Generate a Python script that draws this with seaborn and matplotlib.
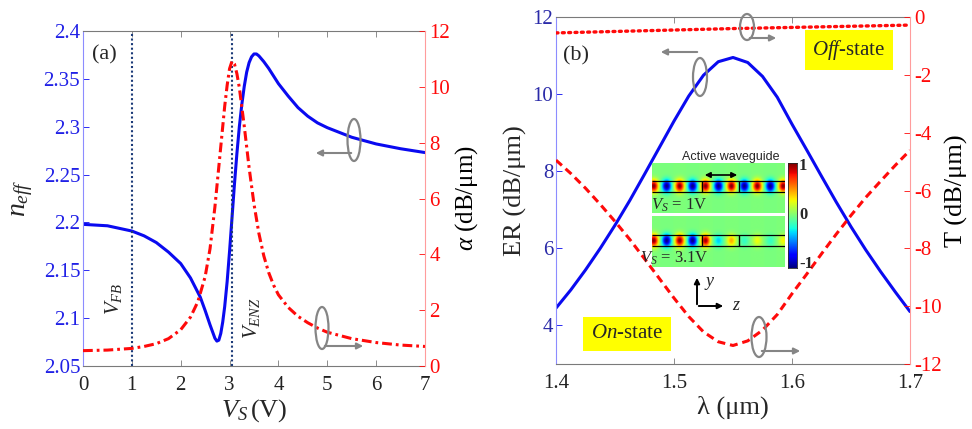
import numpy as np
import matplotlib
matplotlib.use("Agg")
import matplotlib.pyplot as plt
from matplotlib.patches import Ellipse, FancyArrowPatch
import seaborn as sns

# ---- panel (a): effective index and loss versus bias voltage ----
v_s = [0.0, 0.5, 1.0, 1.25, 1.5, 1.75, 2.0, 2.2, 2.4, 2.5, 2.6, 2.65, 2.7,
       2.74, 2.78, 2.82, 2.86, 2.9, 2.95, 3.0, 3.05, 3.1, 3.15, 3.2, 3.25, 3.3,
       3.35, 3.4, 3.45, 3.5, 3.55, 3.6, 3.7, 3.8, 3.9, 4.0, 4.2, 4.4, 4.6, 4.8,
       5.0, 5.5, 6.0, 6.5, 7.0]
n_eff = [2.198, 2.1965, 2.191, 2.186, 2.179, 2.169, 2.157, 2.142, 2.122, 2.108,
         2.093, 2.086, 2.079, 2.076, 2.077, 2.084, 2.096, 2.112, 2.138, 2.170,
         2.205, 2.240, 2.272, 2.300, 2.323, 2.342, 2.357, 2.367, 2.373, 2.376,
         2.376, 2.374, 2.368, 2.361, 2.353, 2.345, 2.332, 2.320, 2.311, 2.304,
         2.299, 2.289, 2.282, 2.277, 2.273]
v_s_loss = [0.0, 0.5, 1.0, 1.25, 1.5, 1.75, 2.0, 2.2, 2.35, 2.5, 2.6, 2.7, 2.8,
            2.9, 2.95, 3.0, 3.05, 3.1, 3.15, 3.2, 3.3, 3.4, 3.5, 3.6, 3.7, 3.8,
            3.9, 4.0, 4.2, 4.4, 4.6, 4.8, 5.0, 5.5, 6.0, 6.5, 7.0]
alpha_loss = [0.55, 0.57, 0.63, 0.70, 0.80, 0.98, 1.30, 1.75, 2.30, 3.20, 4.20,
              5.70, 7.50, 9.30, 10.05, 10.65, 10.92, 10.82, 10.47, 9.97, 8.60,
              7.10, 5.80, 4.75, 3.95, 3.35, 2.90, 2.55, 2.10, 1.78, 1.55, 1.36,
              1.21, 0.98, 0.84, 0.75, 0.70]
v_fb = 1.0
v_enz = 3.05

# ---- panel (b): extinction ratio and transmission versus wavelength ----
wavelength = [1.4, 1.4125, 1.425, 1.4375, 1.45, 1.4625, 1.475, 1.4875, 1.5,
              1.5125, 1.525, 1.5375, 1.55, 1.5625, 1.575, 1.5875, 1.6, 1.6125,
              1.625, 1.6375, 1.65, 1.6625, 1.675, 1.6875, 1.7]
extinction_ratio = [4.45, 4.92, 5.44, 6.00, 6.60, 7.24, 7.92, 8.61, 9.30, 9.95,
                    10.49, 10.84, 10.95, 10.82, 10.46, 9.92, 9.22, 8.55, 7.87,
                    7.20, 6.56, 5.96, 5.40, 4.87, 4.36]
t_on = [-4.95, -5.41, -5.92, -6.48, -7.07, -7.69, -8.36, -9.04, -9.72, -10.36,
        -10.89, -11.23, -11.36, -11.20, -10.83, -10.29, -9.57, -8.89, -8.19,
        -7.51, -6.86, -6.24, -5.68, -5.13, -4.61]
wavelength_off = [1.40, 1.45, 1.50, 1.55, 1.60, 1.65, 1.70]
t_off = [-0.55, -0.50, -0.45, -0.40, -0.36, -0.32, -0.28]

# normalised field amplitude of each lobe along the waveguide
field_1v = [1, -1, 1, -1, 1, -1, 1, -1, 1, -1, 1]
field_3v1 = [1, -1, 1, -1, 0.95, -0.35, 0.45, -0.18, 0.28, -0.18, 0.30]

a_xticks = [0, 1, 2, 3, 4, 5, 6, 7]
a_yticks_left = [2.05, 2.1, 2.15, 2.2, 2.25, 2.3, 2.35, 2.4]
a_yticks_right = [0, 2, 4, 6, 8, 10, 12]
b_xticks = [1.4, 1.5, 1.6, 1.7]
b_yticks_left = [4, 6, 8, 10, 12]
b_yticks_right = [-12, -10, -8, -6, -4, -2, 0]

BLUE = "#0a0af0"
RED = "#ff0a0a"
GREY = "#858585"
SERIF = ["Liberation Serif", "DejaVu Serif"]

sns.set_style("ticks")
plt.rcParams["font.family"] = SERIF
plt.rcParams["mathtext.fontset"] = "custom"
plt.rcParams["mathtext.rm"] = "Liberation Serif"
plt.rcParams["mathtext.it"] = "Liberation Serif:italic"
plt.rcParams["mathtext.bf"] = "Liberation Serif:bold"
plt.rcParams["axes.unicode_minus"] = False

W, H = 972, 429
fig = plt.figure(figsize=(W / 100, H / 100), dpi=100)


def frac(x, y):
    return (x / W, 1 - y / H)


def box(l, t, r, b):
    return [l / W, 1 - b / H, (r - l) / W, (b - t) / H]


def style_twin(ax, ax2, left_col, right_col, tick_left, tick_right):
    for s in ("top", "bottom"):
        ax.spines[s].set_color("#7a7a7a")
        ax.spines[s].set_linewidth(0.8)
    ax.spines["left"].set_color("#8c8cff")
    ax.spines["left"].set_linewidth(0.8)
    ax.spines["right"].set_visible(False)
    for s in ("top", "bottom", "left"):
        ax2.spines[s].set_visible(False)
    ax2.spines["right"].set_color("#ff9c9c")
    ax2.spines["right"].set_linewidth(0.8)
    ax.tick_params(axis="x", direction="in", top=True, length=4, width=0.6,
                   color="#7a7a7a", labelsize=15, pad=7, labelcolor="#222222")
    ax.tick_params(axis="y", direction="in", left=True, right=False, length=4,
                   width=0.6, color=left_col, labelcolor=tick_left,
                   labelsize=15, pad=2)
    ax2.tick_params(axis="y", direction="in", right=True, length=4, width=0.6,
                    color=right_col, labelcolor=tick_right, labelsize=15, pad=3)


def rotation_mark(cx, cy, w, h, ay, x_tip):
    fig.add_artist(Ellipse(frac(cx, cy), w / W, h / H, transform=fig.transFigure,
                           fill=False, ec=GREY, lw=1.6))
    fig.add_artist(FancyArrowPatch(frac(cx, ay), frac(x_tip, ay),
                                   transform=fig.transFigure, arrowstyle="-|>",
                                   mutation_scale=9, color=GREY, lw=1.5))


# ================= panel (a) =================
axa = fig.add_axes(box(83, 31, 425, 366))
axa2 = axa.twinx()
sns.lineplot(x=v_s, y=n_eff, ax=axa, color=BLUE, lw=2.2, sort=False)
loss_line = sns.lineplot(x=v_s_loss, y=alpha_loss, ax=axa2, color=RED, lw=2.2,
                         sort=False).lines[-1]
loss_line.set_dashes([3.2, 1.3, 0.9, 1.3])
for v in (v_fb, v_enz):
    axa.axvline(v, color="#1b3a78", ls=(0, (1, 1.2)), lw=1.5)

axa.set_xlim(0, 7)
axa.set_ylim(2.05, 2.4)
axa2.set_ylim(0, 12)
axa.set_xticks(a_xticks)
axa.set_yticks(a_yticks_left)
axa.set_yticklabels([f"{t:g}" for t in a_yticks_left])
axa2.set_yticks(a_yticks_right)
style_twin(axa, axa2, BLUE, RED, "#2020e6", RED)
axa.set_xlabel(r"$V_S\,$(V)", fontsize=19, labelpad=2)
axa.set_ylabel(r"$n_{eff}$", fontsize=20, labelpad=6)
axa2.set_ylabel(r"$\alpha$ (dB/μm)", fontsize=18, labelpad=2, color="black")
axa.text(0.026, 0.928, "(a)", transform=axa.transAxes, fontsize=16,
         ha="left", va="center")
axa.text(0.62, 2.12, r"$V_{FB}$", rotation=90, fontsize=15, ha="center",
         va="center")
axa.text(3.45, 2.10, r"$V_{ENZ}$", rotation=90, fontsize=15, ha="center",
         va="center")

# ================= panel (b) =================
axb = fig.add_axes(box(556, 17, 910, 364))
axb2 = axb.twinx()
sns.lineplot(x=wavelength, y=extinction_ratio, ax=axb, color=BLUE, lw=2.2,
             sort=False)
on_line = sns.lineplot(x=wavelength, y=t_on, ax=axb2, color=RED, lw=2.2,
                       sort=False).lines[-1]
on_line.set_dashes([2.6, 1.6])
off_line = sns.lineplot(x=wavelength_off, y=t_off, ax=axb2, color=RED, lw=2.4,
                        sort=False).lines[-1]
off_line.set_dashes([0.6, 1.3])
off_line.set_dash_capstyle("round")

axb.set_xlim(1.4, 1.7)
axb.set_ylim(3, 12)
axb2.set_ylim(-12, 0)
axb.set_xticks(b_xticks)
axb.set_xticklabels([f"{t:g}" for t in b_xticks])
axb.set_yticks(b_yticks_left)
axb2.set_yticks(b_yticks_right)
style_twin(axb, axb2, BLUE, RED, "#2a2aa8", RED)
axb.set_xlabel("λ (μm)", fontsize=19, labelpad=2)
axb.set_ylabel("ER (dB/μm)", fontsize=19, labelpad=4)
axb2.set_ylabel("T (dB/μm)", fontsize=19, labelpad=2, color="black")
axb.text(0.02, 0.888, "(b)", transform=axb.transAxes, fontsize=16,
         ha="left", va="center")

ybox = dict(facecolor="#ffff00", edgecolor="none", pad=5.5)
fig.text(*frac(849, 50), r"$Off$-state", fontsize=15, ha="center",
         va="center", bbox=ybox)
fig.text(*frac(627, 334), r"$On$-state", fontsize=15, ha="center",
         va="center", bbox=ybox)

# rotation markers pointing each curve to its axis
rotation_mark(354, 140, 13, 42, 153, 313)
rotation_mark(322, 328, 13, 42, 346, 366)
rotation_mark(747, 27, 14, 26, 38, 779)
rotation_mark(700, 77, 14, 38, 52, 658)
rotation_mark(759, 337, 15, 40, 351, 803)

# ---- inset: field maps along the waveguide ----
X0, X1 = -0.12, 10.12
xs = np.linspace(X0, X1, 330)
ys = np.linspace(0, 1, 130)
gx, gy = np.meshgrid(xs, ys)
for amps, rect, (lo, hi), label, lab_xy in (
        (field_1v, (652, 163, 785, 213), (0.42, 0.64), r"$V_S$ = 1V", (679, 205)),
        (field_3v1, (652, 216, 785, 267), (0.41, 0.63), r"$V_S$ = 3.1V", (674, 258))):
    ins = fig.add_axes(box(*rect))
    yc = (lo + hi) / 2
    img = np.zeros_like(gx)
    for i, a in enumerate(amps):
        img += a * np.exp(-((gx - i) / 0.36) ** 2 - ((gy - yc) / 0.12) ** 2)
    ins.imshow(np.clip(img, -1, 1), extent=[X0, X1, 0, 1], origin="lower",
               cmap="jet", vmin=-1, vmax=1, aspect="auto",
               interpolation="bilinear")
    ins.hlines([lo, hi], X0, X1, color="black", lw=0.9)
    ins.vlines([3.72, 6.6], lo, hi, color="black", lw=1.0)
    ins.set_xlim(X0, X1)
    ins.set_ylim(0, 1)
    ins.axis("off")
    fig.text(*frac(*lab_xy), label, fontsize=12, ha="center", va="center")

cax = fig.add_axes(box(788, 163, 797, 268))
cax.imshow(np.linspace(1, -1, 200)[:, None], cmap="jet", aspect="auto",
           extent=[0, 1, -1, 1])
cax.set_xticks([])
cax.set_yticks([])
for s in cax.spines.values():
    s.set_linewidth(0.6)
for txt, yy in (("1", 166), ("0", 215), ("-1", 264)):
    fig.text(*frac(799, yy), txt, fontsize=12, fontweight="bold", ha="left",
             va="center")

fig.text(*frac(731, 157), "Active waveguide", fontsize=9,
         family="Liberation Sans", ha="center", va="center")
fig.add_artist(FancyArrowPatch(frac(702, 175), frac(740, 175),
                               transform=fig.transFigure, arrowstyle="<|-|>",
                               mutation_scale=8, color="black", lw=1.2))
# y-z orientation arrows
fig.add_artist(FancyArrowPatch(frac(697, 307), frac(697, 275),
                               transform=fig.transFigure, arrowstyle="-|>",
                               mutation_scale=8, color="black", lw=1.4))
fig.add_artist(FancyArrowPatch(frac(696, 306), frac(726, 306),
                               transform=fig.transFigure, arrowstyle="-|>",
                               mutation_scale=8, color="black", lw=1.4))
fig.text(*frac(710, 282), "y", fontsize=13, style="italic", ha="center",
         va="center")
fig.text(*frac(736, 306), "z", fontsize=13, style="italic", ha="center",
         va="center")

fig.savefig("out.png", dpi=100)
